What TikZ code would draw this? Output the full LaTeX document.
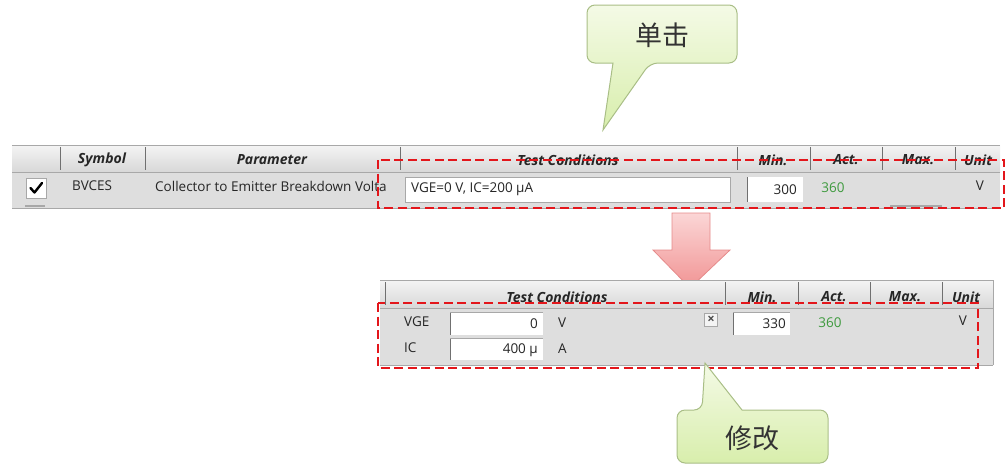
\documentclass[tikz,border=0pt]{standalone}
\usepackage{fontspec}
\newfontfamily\ui{Open Sans}
\newfontfamily\cjk{Noto Sans CJK SC}
\usetikzlibrary{calc}
\definecolor{rowgray}{HTML}{DEDEDE}
\definecolor{hdrtop}{HTML}{F4F4F4}
\definecolor{hdrbot}{HTML}{D8D8D8}
\definecolor{gridline}{HTML}{A8A8A8}
\definecolor{sepline}{HTML}{707070}
\definecolor{markred}{HTML}{E3161B}
\definecolor{actgreen}{HTML}{3E9A3E}
\definecolor{calloutborder}{HTML}{A9BE86}
\definecolor{callouttop}{HTML}{F4FAE6}
\definecolor{calloutbot}{HTML}{D8EEAC}
\definecolor{arrowtop}{HTML}{FBD6D6}
\definecolor{arrowbot}{HTML}{F19494}
\definecolor{arrowborder}{HTML}{E58A8A}
\tikzset{
  celltext/.style={font=\ui\fontsize{13.5}{15}\selectfont, inner sep=0pt, text=black!85},
  hdrtext/.style={font=\ui\bfseries\itshape\fontsize{14}{15}\selectfont, inner sep=0pt, text=black!85},
  header/.style={top color=hdrtop, bottom color=hdrbot, draw=none},
  datarow/.style={fill=rowgray, draw=none},
  colsep/.style={draw=sepline, line width=0.9pt},
  inputbox/.style={fill=white, draw=gridline, line width=0.6pt},
  redmark/.style={draw=markred, line width=2.4pt, dash pattern=on 9pt off 4.5pt},
  callout/.style={top color=callouttop, bottom color=calloutbot, draw=calloutborder, line width=1pt},
  callouttext/.style={font=\cjk\fontsize{27}{30}\selectfont, text=black!80, inner sep=0pt},
  bigarrow/.style={top color=arrowtop, bottom color=arrowbot, draw=arrowborder, line width=0.8pt},
}
\begin{document}
\begin{tikzpicture}[x=1pt, y=-1pt]
\useasboundingbox (0,0) rectangle (1006,467);

% ---------- upper table row ----------
\path[header] (12,145) rectangle (1000,172);
\path[datarow] (12,172) rectangle (1000,208);
\draw[gridline, line width=0.6pt] (12,145) -- (1000,145);
\draw[gridline, line width=0.6pt] (12,172) -- (1000,172);
\draw[gridline, line width=0.6pt] (12,208) -- (1000,208);
\foreach \x in {60,145,400,737,810,882,955}
  \draw[colsep] (\x,147) -- (\x,170);

\node[hdrtext] (hSym) at (102,160) {Symbol};
\node[hdrtext] (hPar) at (272,160) {Parameter};
\node[hdrtext] (hTC)  at (568,160) {Test Conditions};
\node[hdrtext] (hMin) at (773,160) {Min.};
\node[hdrtext] (hAct) at (846,160) {Act.};
\node[hdrtext] (hMax) at (918,160) {Max.};
\node[hdrtext] (hUnit) at (978,160) {Unit};

% checkbox
\node[inputbox, minimum width=20pt, minimum height=20pt, inner sep=0pt] (chk) at (36,188) {};
\draw[black, line width=2.4pt, line cap=round, line join=round]
  ($(chk.center)+(-5.5,0)$) -- ($(chk.center)+(-1.5,4.5)$) -- ($(chk.center)+(6,-5)$);
\draw[gridline, line width=1.5pt] (25,206) -- (45,206);

\node[celltext, anchor=west] (sym) at (72,186) {BVCES};
\begin{scope}
  \clip (150,172) rectangle (398,208);
  \node[celltext, anchor=west] (par) at (155,186) {Collector to Emitter Breakdown Volta};
\end{scope}

\path[inputbox] (405,177) rectangle (730,202);
\node[celltext, anchor=west] (tc) at (411,189.5) {VGE=0 V, IC=200 µA};
\path[inputbox, draw=none] (747,177) rectangle (803,202);
\draw[sepline, line width=1pt] (747,177) -- (747,202);
\node[celltext, anchor=east] (mn) at (797,189.5) {300};
\node[celltext, text=actgreen] (act) at (833,188) {360};
\node[celltext] (unit) at (980,186) {V};
\draw[gridline, line width=1.2pt] (890,206) -- (942,206);

\draw[redmark] (378,160) rectangle (1004,208);

% ---------- arrow between the tables ----------
\path[bigarrow] (672,213) -- (710,213) -- (710,250) -- (730,250) -- (690,288)
  -- (653,250) -- (672,250) -- cycle;

% ---------- lower table (edit mode) ----------
\path[header] (380,280) rectangle (993,308);
\path[datarow] (380,308) rectangle (993,365);
\draw[gridline, line width=0.6pt] (380,280) -- (993,280);
\draw[gridline, line width=0.6pt] (380,308) -- (993,308);
\draw[gridline, line width=0.6pt] (380,365) -- (993,365);
\draw[gridline, line width=0.6pt] (993,280) -- (993,365);
\foreach \x in {385,725,798,870,942}
  \draw[colsep] (\x,282) -- (\x,305);

\node[hdrtext] (eTC)  at (557,297) {Test Conditions};
\node[hdrtext] (eMin) at (762,297) {Min.};
\node[hdrtext] (eAct) at (834,297) {Act.};
\node[hdrtext] (eMax) at (905,297) {Max.};
\node[hdrtext] (eUnit) at (966,297) {Unit};

\node[celltext, anchor=west] (lVGE) at (404,322) {VGE};
\node[celltext, anchor=west] (lIC)  at (404,348) {IC};
\path[inputbox, draw=none] (450,312) rectangle (543,335);
\draw[sepline, line width=1pt] (450,312) -- (450,335);
\draw[gridline, line width=0.8pt] (450,312) -- (543,312);
\path[inputbox, draw=none] (450,338) rectangle (543,360);
\draw[sepline, line width=1pt] (450,338) -- (450,360);
\draw[gridline, line width=0.8pt] (450,338) -- (543,338);
\node[celltext, anchor=east] (vVGE) at (538,324) {0};
\node[celltext, anchor=east] (vIC)  at (538,350) {400 µ};
\node[celltext, anchor=west] (uVGE) at (558,323) {V};
\node[celltext, anchor=west] (uIC)  at (558,349) {A};

\node[fill=hdrtop, draw=gridline, line width=0.6pt, minimum size=13pt, inner sep=0pt,
      font=\ui\bfseries\fontsize{13}{13}\selectfont, text=black!70] (close) at (711,320) {×};

\path[inputbox, draw=none] (733,312) rectangle (790,335);
\draw[sepline, line width=1pt] (733,312) -- (733,335);
\draw[gridline, line width=0.8pt] (733,312) -- (790,312);
\node[celltext, anchor=east] (eMinV) at (786,324) {330};
\node[celltext, text=actgreen] (eActV) at (830,323) {360};
\node[celltext] (eUnitV) at (963,321) {V};

\draw[redmark] (378,303) rectangle (978,368);

% ---------- callouts ----------
\path[callout, rounded corners=8pt] (587,34) -- (587,5) -- (737,5) -- (737,63)
  -- (650,63) [sharp corners] -- (603,130) -- (613,63) [rounded corners=8pt] -- (587,63) -- cycle;
\node[callouttext] (click) at (662,35) {单击};

\path[callout, rounded corners=8pt] (677,440) -- (677,410) -- (702,410) [sharp corners]
  -- (705,363) -- (742,410) [rounded corners=8pt] -- (828,410) -- (828,463) -- (677,463) -- cycle;
\node[callouttext] (edit) at (752,438) {修改};

\end{tikzpicture}
\end{document}
